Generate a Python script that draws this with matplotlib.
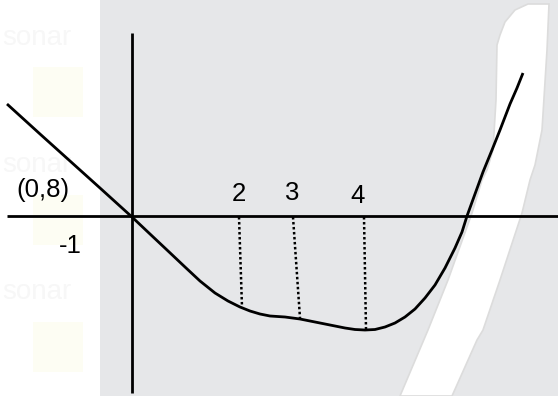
import matplotlib
matplotlib.use("Agg")
import matplotlib.pyplot as plt
from matplotlib.patches import Polygon, Rectangle

# sketch laid out in a 558 x 396 frame (y grows downward)
W, H = 558, 396

curve_x = [7, 40, 70, 100, 132, 150, 167, 185, 200, 215, 228, 240, 250,
           260, 270, 285, 300, 315, 330, 345, 355, 365, 375, 385, 395,
           405, 415, 425, 435, 445, 455, 462, 467, 475, 483, 492, 500,
           510, 517, 523]
curve_y = [104, 134, 161, 188, 217, 234, 250, 267, 281, 293, 301, 307, 311,
           314, 316, 317, 319, 322, 325, 328, 329.5, 330, 329.5, 327, 323,
           317, 309, 298, 285, 268, 248, 232, 216, 194, 172, 150, 130,
           104, 88, 73]

# dotted drop lines: (x at axis, x at curve, y at curve)
drop_top_x = [239, 293, 364]
drop_bot_x = [242, 300, 366]
drop_bot_y = [307, 318, 329]
drop_labels = ["2", "3", "4"]
label_x = [239, 292, 358]
label_y = [194, 193, 196]

# white band on the right
band_left_x = [528, 515, 505, 500, 497, 496, 493, 487, 482, 472, 448, 428, 400]
band_left_y = [4, 10, 22, 35, 45, 100, 150, 170, 180, 213, 280, 330, 396]
band_right_x = [549, 547, 542, 535, 530, 522, 500, 483, 477, 452]
band_right_y = [4, 50, 130, 165, 180, 213, 280, 330, 340, 396]

fig = plt.figure(figsize=(W / 100, H / 100), dpi=100)
ax = fig.add_axes([0, 0, 1, 1])
ax.set_xlim(0, W)
ax.set_ylim(H, 0)
ax.axis("off")

# backgrounds
ax.add_patch(Rectangle((0, 0), 100, H, facecolor="white", edgecolor="none", zorder=0))
ax.add_patch(Rectangle((100, 0), W - 100, H, facecolor="#e6e7e9", edgecolor="none", zorder=0))

# faint watermark blocks on the left
for y0 in [67, 195, 322]:
    ax.add_patch(Rectangle((33, y0), 50, 50, facecolor="#fdfdf3", edgecolor="none", zorder=0.5))
for y0 in [38, 165, 292]:
    ax.text(2, y0, "sonar", fontsize=20, color="#f7f7f7", family="Liberation Sans",
            va="center", ha="left", zorder=0.5)

band = list(zip(band_left_x, band_left_y)) + list(zip(band_right_x[::-1], band_right_y[::-1]))
ax.add_patch(Polygon(band, closed=True, facecolor="white", edgecolor="#dcdcdc",
                     linewidth=1.2, zorder=1))

# axes lines
ax.plot([7, W], [216, 216], color="black", lw=2.0, solid_capstyle="butt", zorder=3)
ax.plot([132, 132], [33, 393], color="black", lw=2.0, solid_capstyle="butt", zorder=3)

ax.plot(curve_x, curve_y, color="black", lw=2.0, zorder=4,
        solid_joinstyle="round", solid_capstyle="butt")

for xt, xb, yb in zip(drop_top_x, drop_bot_x, drop_bot_y):
    ax.plot([xt, xb], [217, yb], color="black", lw=1.8, linestyle=(0, (1, 1)), zorder=3)

font = dict(family="Liberation Sans", fontsize=18.5, color="black", zorder=5)
for lx, ly, s in zip(label_x, label_y, drop_labels):
    ax.text(lx, ly, s, ha="center", va="center", **font)
ax.text(43, 190, "(0,8)", ha="center", va="center", **font)
ax.text(70, 246, "-1", ha="center", va="center", **font)

fig.savefig("out.png", dpi=100)
